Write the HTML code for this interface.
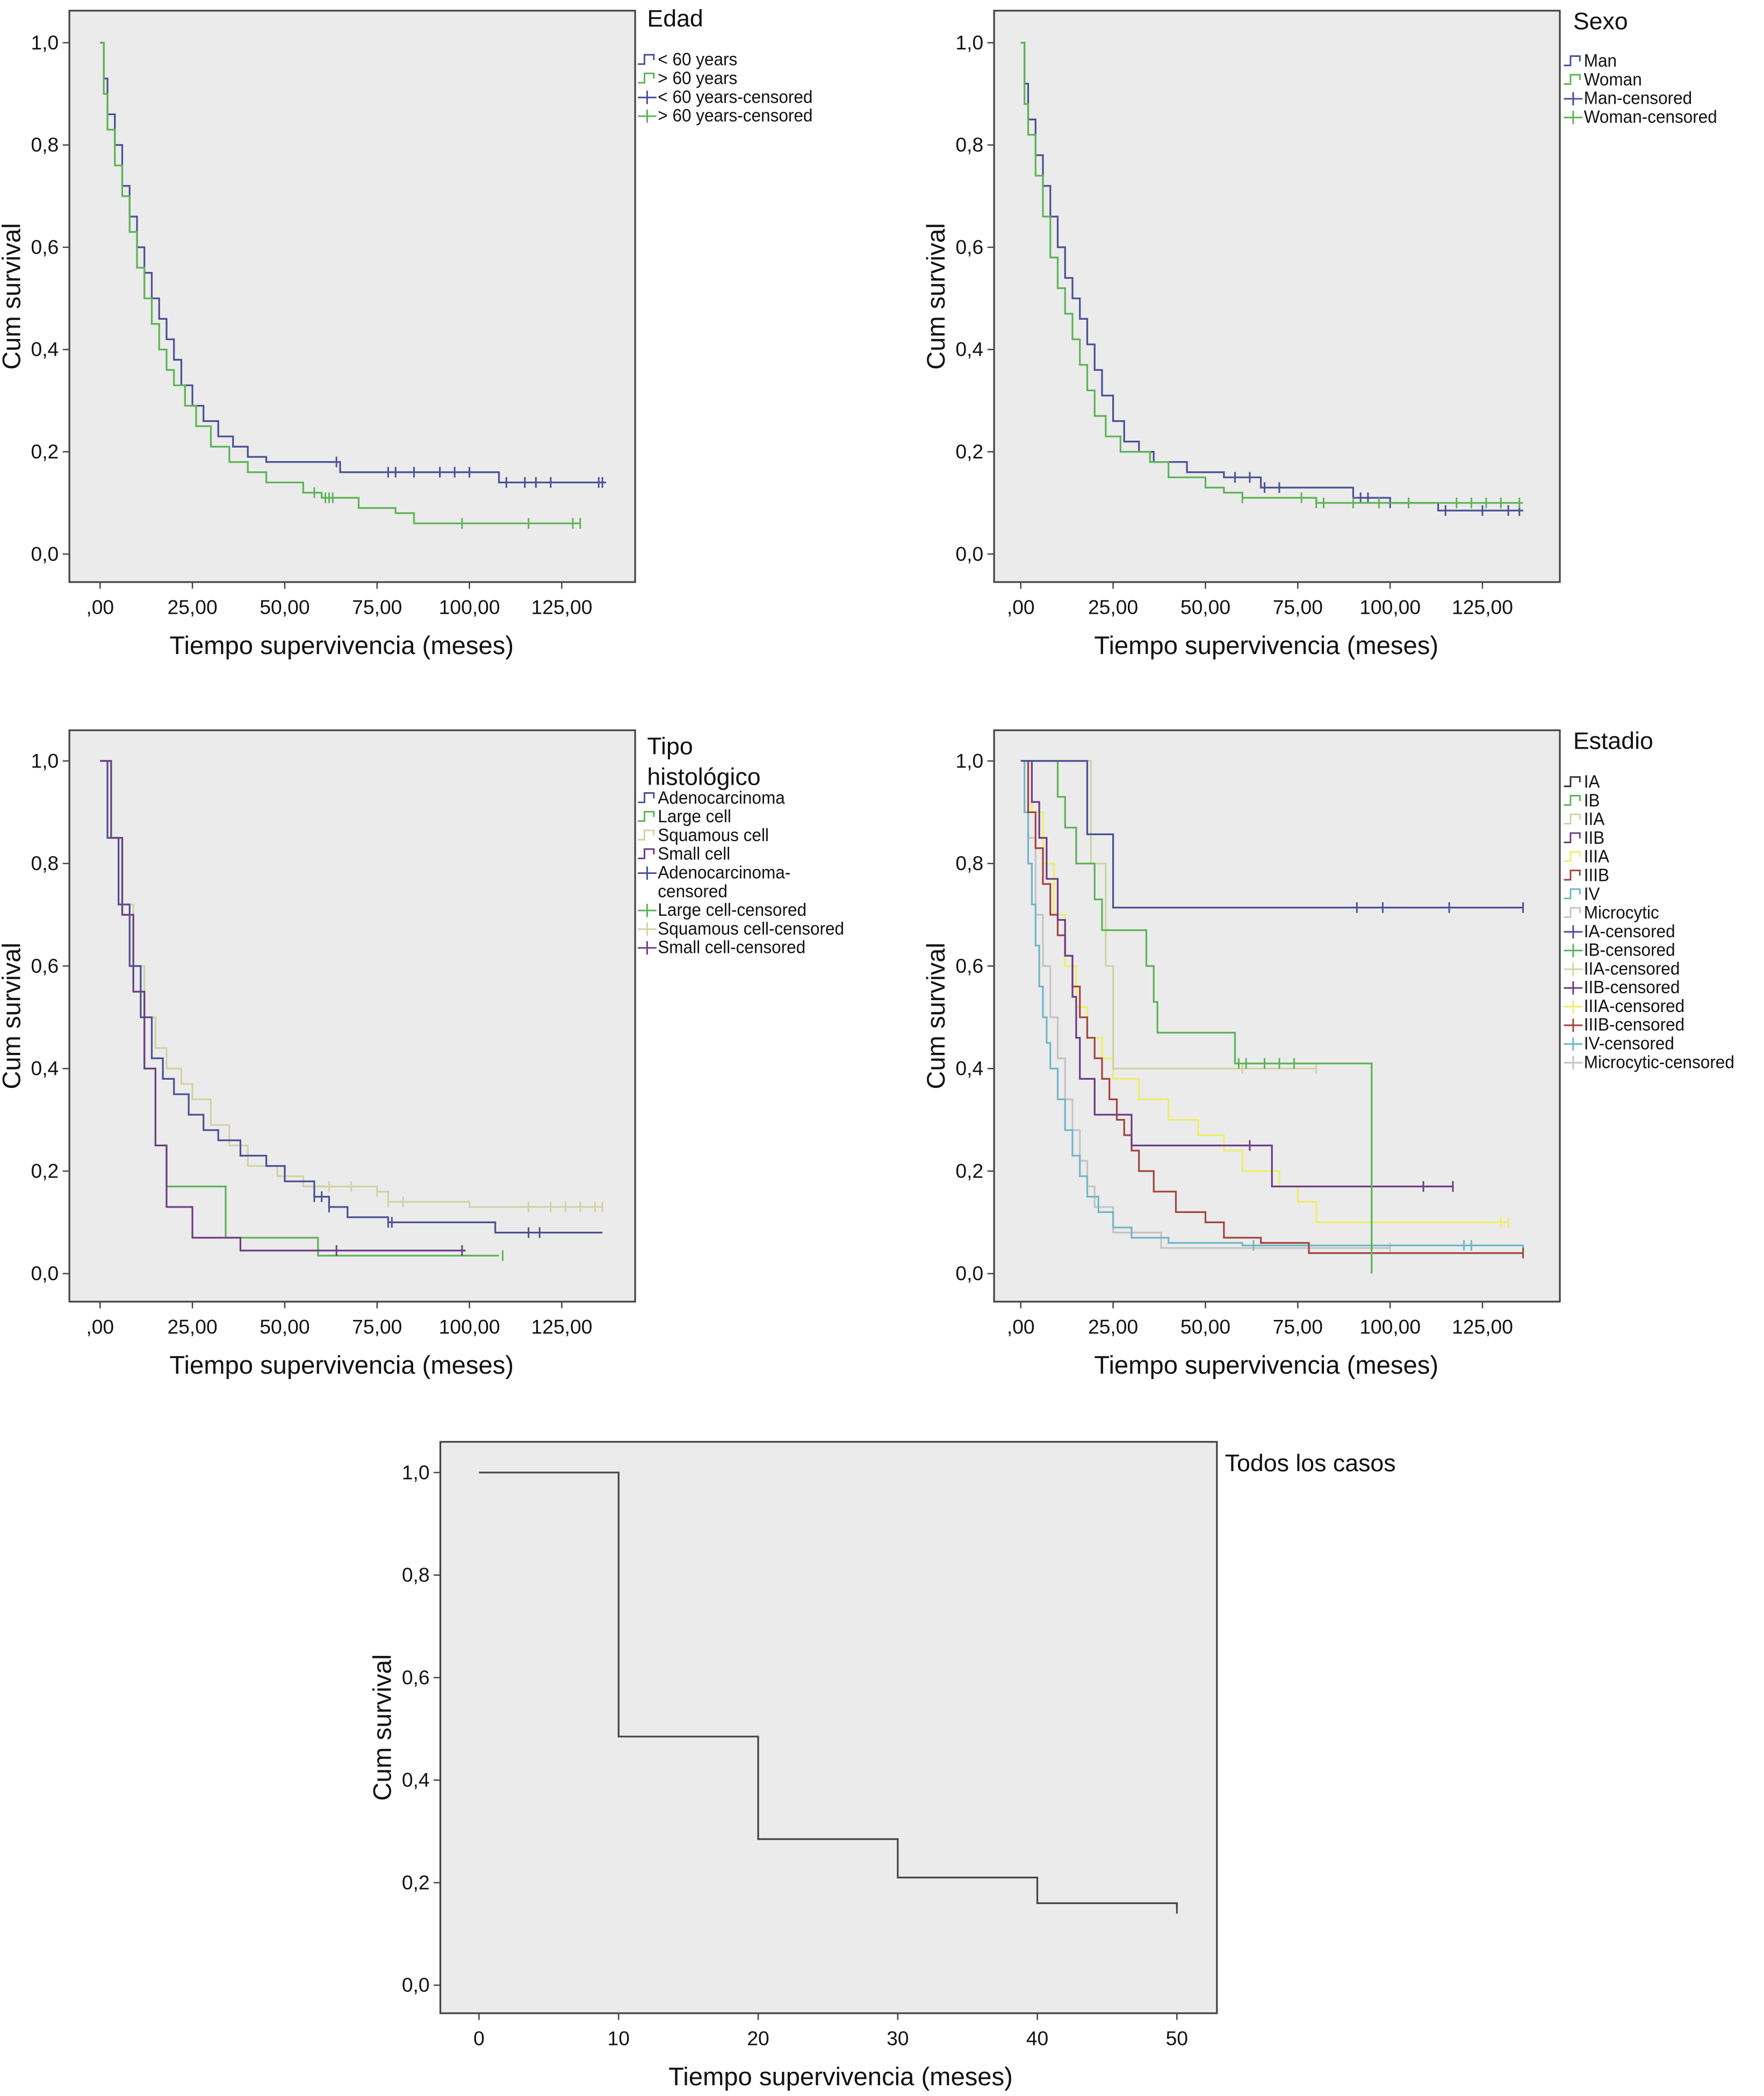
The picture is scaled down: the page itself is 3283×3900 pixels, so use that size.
<!DOCTYPE html>
<html><head><meta charset="utf-8"><style>
html,body{margin:0;padding:0;background:#fff}
svg{display:block;font-family:"Liberation Sans",Arial,sans-serif}
</style></head><body>
<svg id="fig" width="3283" height="3900" viewBox="0 0 1322 1570" preserveAspectRatio="none" xmlns="http://www.w3.org/2000/svg"></svg>
<script>
// ---- data ----
const edadLt60 = [[0,1],[1,.93],[2,.86],[4,.80],[6,.72],[8,.66],[10,.60],[12,.55],[14,.50],[16,.46],[18,.42],[20,.38],[22,.33],[25,.29],[28,.26],[32,.23],[36,.21],[40,.19],[45,.18],[65,.16],[108,.14],[137,.14]];
const edadLt60Cens = [64,78,80,85,92,96,100,110,115,118,122,135,136];
const edadGt60 = [[0,1],[1,.9],[2,.83],[4,.76],[6,.70],[8,.63],[10,.56],[12,.50],[14,.45],[16,.40],[18,.36],[20,.33],[23,.29],[26,.25],[30,.21],[35,.18],[40,.16],[45,.14],[55,.12],[60,.11],[70,.09],[80,.08],[85,.06],[130,.06]];
const edadGt60Cens = [58,61,62,63,98,116,128,130];
const sexMan = [[0,1],[1,.92],[2,.85],[4,.78],[6,.72],[8,.66],[10,.60],[12,.54],[14,.50],[16,.46],[18,.41],[20,.36],[22,.31],[25,.26],[28,.22],[32,.20],[36,.18],[45,.16],[55,.15],[65,.13],[90,.11],[100,.10],[113,.085],[136,.085]];
const sexManCens = [58,62,66,70,92,94,100,115,125,132,135];
const sexWoman = [[0,1],[1,.88],[2,.82],[4,.74],[6,.66],[8,.58],[10,.52],[12,.47],[14,.42],[16,.37],[18,.32],[20,.27],[23,.23],[27,.20],[35,.18],[40,.15],[50,.13],[55,.12],[60,.11],[80,.10],[136,.10]];
const sexWomanCens = [60,76,80,82,90,97,105,118,122,126,130,135];
const tipoAdeno = [[0,1],[2,.85],[5,.72],[8,.60],[11,.5],[14,.42],[17,.38],[20,.35],[24,.31],[28,.28],[32,.26],[38,.23],[45,.21],[50,.18],[58,.15],[62,.13],[67,.11],[78,.10],[107,.08],[136,.08]];
const tipoAdenoCens = [58,60,62,78,79,116,119];
const tipoLarge = [[0,1],[3,.85],[6,.7],[9,.55],[12,.4],[15,.25],[18,.17],[25,.17],[34,.07],[59,.035],[108,.035]];
const tipoLargeCens = [109];
const tipoSquam = [[0,1],[3,.85],[6,.72],[9,.6],[12,.5],[15,.44],[18,.40],[22,.37],[25,.34],[30,.29],[35,.25],[40,.21],[48,.19],[55,.17],[75,.16],[78,.14],[100,.13],[136,.13]];
const tipoSquamCens = [62,68,75,78,82,116,122,126,130,134,136];
const tipoSmall = [[0,1],[3,.85],[6,.7],[9,.55],[12,.4],[15,.25],[18,.13],[25,.07],[38,.045],[99,.045]];
const tipoSmallCens = [64,98];
const estIA = [[0,1],[18,.857],[25,.714],[136,.714]];
const estIACens = [91,98,116,136];
const estIB = [[0,1],[10,.93],[12,.87],[15,.8],[20,.73],[22,.67],[34,.6],[36,.53],[37,.47],[58,.41],[95,.41],[95,0]];
const estIBCens = [59,61,66,70,74];
const estIIA = [[0,1],[19,.8],[23,.6],[25,.4],[80,.4]];
const estIIACens = [60,80];
const estIIB = [[0,1],[3,.92],[5,.85],[7,.77],[10,.69],[12,.62],[14,.54],[15,.46],[16,.38],[20,.31],[30,.25],[68,.17],[117,.17]];
const estIIBCens = [62,109,117];
const estIIIA = [[0,1],[3,.9],[6,.8],[9,.7],[12,.6],[15,.52],[18,.46],[22,.42],[25,.38],[32,.34],[40,.3],[48,.27],[55,.24],[60,.2],[70,.17],[75,.14],[80,.1],[132,.1]];
const estIIIACens = [130,132];
const estIIIB = [[0,1],[2,.9],[4,.83],[6,.76],[8,.7],[10,.66],[12,.62],[14,.56],[16,.5],[18,.46],[20,.42],[22,.38],[24,.34],[26,.3],[28,.27],[30,.24],[32,.2],[36,.16],[42,.12],[50,.1],[55,.07],[65,.06],[78,.04],[136,.04]];
const estIIIBCens = [136];
const estIV = [[0,1],[1,.9],[2,.8],[3,.72],[4,.64],[5,.56],[6,.5],[7,.45],[8,.4],[10,.34],[12,.28],[14,.23],[16,.19],[18,.15],[21,.12],[25,.09],[30,.07],[40,.06],[60,.055],[136,.045]];
const estIVCens = [63,95,120,122,136];
const estMicro = [[0,1],[2,.85],[4,.7],[6,.6],[8,.5],[10,.42],[12,.34],[14,.28],[16,.22],[18,.17],[20,.13],[25,.08],[38,.05],[100,.05]];
const estMicroCens = [95,100];
const todos = [[0,1],[10,.485],[20,.285],[30,.21],[40,.16],[50,.15]];
const xTicks1 = [0,25,50,75,100,125];
const xTickLabels1 = [",00","25,00","50,00","75,00","100,00","125,00"];
const yTicks = [0,.2,.4,.6,.8,1];
const yTickLabels = ["0,0","0,2","0,4","0,6","0,8","1,0"];
const xTicks5 = [0,10,20,30,40,50];
const xTickLabels5 = ["0","10","20","30","40","50"];

const NS="http://www.w3.org/2000/svg";
const svg=document.getElementById('fig');
function mk(tag,attrs,parent){const e=document.createElementNS(NS,tag);for(const k in attrs)e.setAttribute(k,attrs[k]);(parent||svg).appendChild(e);return e;}
function txt(s,x,y,size,anchor,parent){const t=mk('text',{x:x,y:y,'font-size':size,'text-anchor':anchor||'start',fill:'#111'},parent);t.textContent=s;return t;}

const C={blue:'#4b4f96',green:'#5db455',beige:'#d2d2a4',purple:'#6e3c86',yellow:'#eeee6a',brown:'#a4443f',cyan:'#6fb7c9',gray:'#c4c4c4',dark:'#333'};

function panel(cfg){
  const g=mk('g',{});
  
  
  const X=v=>cfg.x0+(v-cfg.xmin)*(cfg.x1-cfg.x0)/(cfg.xmax-cfg.xmin);
  const Y=v=>cfg.y0+(1-v)*(cfg.y1-cfg.y0);
  const bg=mk('rect',{x:cfg.bx,y:cfg.by,width:cfg.bw,height:cfg.bh,fill:'#ebebeb',stroke:'#444','stroke-width':1.3},g);
  
  yTicks.forEach((v,i)=>{
    mk('line',{x1:cfg.bx-5,x2:cfg.bx,y1:Y(v),y2:Y(v),stroke:'#444','stroke-width':1},g);
    const t=txt(yTickLabels[i],cfg.bx-8,Y(v)+5,15,'end',g);
    
  });
  cfg.xt.forEach((v,i)=>{
    mk('line',{x1:X(v),x2:X(v),y1:cfg.by+cfg.bh,y2:cfg.by+cfg.bh+5,stroke:'#444','stroke-width':1},g);
    const t=txt(cfg.xl[i],X(v),cfg.by+cfg.bh+24,15,'middle',g);
    
  });
  const yt=txt('Cum survival',0,0,19,'middle',g);
  yt.setAttribute('transform',`translate(${cfg.bx-37},${cfg.by+cfg.bh/2}) rotate(-90)`);
  
  const xt=txt('Tiempo supervivencia (meses)',cfg.bx+cfg.bw/2-(cfg.xtOff||8),cfg.by+cfg.bh+54,19,'middle',g);
  
  cfg.series.forEach(s=>{
    let d='M'+X(s.pts[0][0])+' '+Y(s.pts[0][1]);
    for(let i=1;i<s.pts.length;i++){d+=' H'+X(s.pts[i][0])+' V'+Y(s.pts[i][1]);}
    const p=mk('path',{d:d,fill:'none',stroke:s.c,'stroke-width':1.3},g);
    
    (s.cens||[]).forEach(t=>{
      let v=s.pts[0][1];for(const q of s.pts){if(q[0]<=t)v=q[1];}
      const m=mk('line',{x1:X(t),x2:X(t),y1:Y(v)-4,y2:Y(v)+4,stroke:s.c,'stroke-width':1.2},g);
      
    });
  });
  if(cfg.title){cfg.title.forEach((tl,i)=>{const t=txt(tl,cfg.lx+7,cfg.ly+i*23,18,'start',g);});}
  let ly=cfg.ley;
  (cfg.legend||[]).forEach(e=>{
    const le=mk('g',{},g);
    
    if(e.cens){mk('path',{d:`M${cfg.lx} ${ly-4} H${cfg.lx+14} M${cfg.lx+7} ${ly-9} V${ly+1}`,stroke:e.c,fill:'none','stroke-width':1.2},le);}
    else{mk('path',{d:`M${cfg.lx} ${ly-1} H${cfg.lx+5} V${ly-8} H${cfg.lx+12} V${ly-4}`,stroke:e.c,fill:'none','stroke-width':1.2},le);}
    e.t.split('\n').forEach((line,k)=>{const t=txt(line,cfg.lx+15,ly+k*14,13.5,'start',le);t.setAttribute('textLength','');t.removeAttribute('textLength');t.setAttribute('transform',`translate(${(cfg.lx+15)*0.06},0) scale(0.94,1)`);ly+= k?14:0;});
    ly+=14;
  });
}

const base1={xmin:0,xmax:125,x0:75,x1:421,y0:32,y1:415,bx:52,by:8,bw:424,bh:428,xt:xTicks1,xl:xTickLabels1};
panel(Object.assign({},base1,{name:'edad-chart',title:['Edad'],lx:478,ly:20,ley:49,
  series:[{n:'lt60',c:C.blue,pts:edadLt60,cens:edadLt60Cens},{n:'gt60',c:C.green,pts:edadGt60,cens:edadGt60Cens}],
  legend:[{t:'< 60 years',c:C.blue},{t:'> 60 years',c:C.green},{t:'< 60 years-censored',c:C.blue,cens:1},{t:'> 60 years-censored',c:C.green,cens:1}]}));
panel(Object.assign({},base1,{name:'sexo-chart',x0:765,x1:1111,bx:745,title:['Sexo'],lx:1172,ly:22,ley:50,
  series:[{n:'man',c:C.blue,pts:sexMan,cens:sexManCens},{n:'woman',c:C.green,pts:sexWoman,cens:sexWomanCens}],
  legend:[{t:'Man',c:C.blue},{t:'Woman',c:C.green},{t:'Man-censored',c:C.blue,cens:1},{t:'Woman-censored',c:C.green,cens:1}]}));
const base3=Object.assign({},base1,{y0:570,y1:954,by:547});
panel(Object.assign({},base3,{name:'tipo-histologico-chart',title:['Tipo','histológico'],lx:478,ly:565,ley:602,
  series:[{n:'squamous',c:C.beige,pts:tipoSquam,cens:tipoSquamCens},{n:'adeno',c:C.blue,pts:tipoAdeno,cens:tipoAdenoCens},{n:'large',c:C.green,pts:tipoLarge,cens:tipoLargeCens},{n:'small',c:C.purple,pts:tipoSmall,cens:tipoSmallCens}],
  legend:[{t:'Adenocarcinoma',c:C.blue},{t:'Large cell',c:C.green},{t:'Squamous cell',c:C.beige},{t:'Small cell',c:C.purple},{t:'Adenocarcinoma-\ncensored',c:C.blue,cens:1},{t:'Large cell-censored',c:C.green,cens:1},{t:'Squamous cell-censored',c:C.beige,cens:1},{t:'Small cell-censored',c:C.purple,cens:1}]}));
panel(Object.assign({},base3,{name:'estadio-chart',x0:765,x1:1111,bx:745,title:['Estadio'],lx:1172,ly:561,ley:590,
  series:[{n:'micro',c:C.gray,pts:estMicro,cens:estMicroCens},{n:'iv',c:C.cyan,pts:estIV,cens:estIVCens},{n:'iiia',c:C.yellow,pts:estIIIA,cens:estIIIACens},{n:'iiib',c:C.brown,pts:estIIIB,cens:estIIIBCens},{n:'iib',c:C.purple,pts:estIIB,cens:estIIBCens},{n:'iia',c:C.beige,pts:estIIA,cens:estIIACens},{n:'ib',c:C.green,pts:estIB,cens:estIBCens},{n:'ia',c:C.blue,pts:estIA,cens:estIACens}],
  legend:[{t:'IA',c:C.dark},{t:'IB',c:C.green},{t:'IIA',c:C.beige},{t:'IIB',c:C.purple},{t:'IIIA',c:C.yellow},{t:'IIIB',c:C.brown},{t:'IV',c:C.cyan},{t:'Microcytic',c:C.gray},{t:'IA-censored',c:C.blue,cens:1},{t:'IB-censored',c:C.green,cens:1},{t:'IIA-censored',c:C.beige,cens:1},{t:'IIB-censored',c:C.purple,cens:1},{t:'IIIA-censored',c:C.yellow,cens:1},{t:'IIIB-censored',c:C.brown,cens:1},{t:'IV-censored',c:C.cyan,cens:1},{t:'Microcytic-censored',c:C.gray,cens:1}]}));
panel({name:'todos-los-casos-chart',xmin:0,xmax:50,x0:359,x1:882,y0:1103,y1:1487,bx:330,by:1080,bw:582,bh:428,xt:xTicks5,xl:xTickLabels5,xtOff:-9,
  title:['Todos los casos'],lx:911,ly:1102,ley:0,
  series:[{n:'todos',c:'#444',pts:todos,cens:[50]}],legend:[]});
</script>
</body></html>
